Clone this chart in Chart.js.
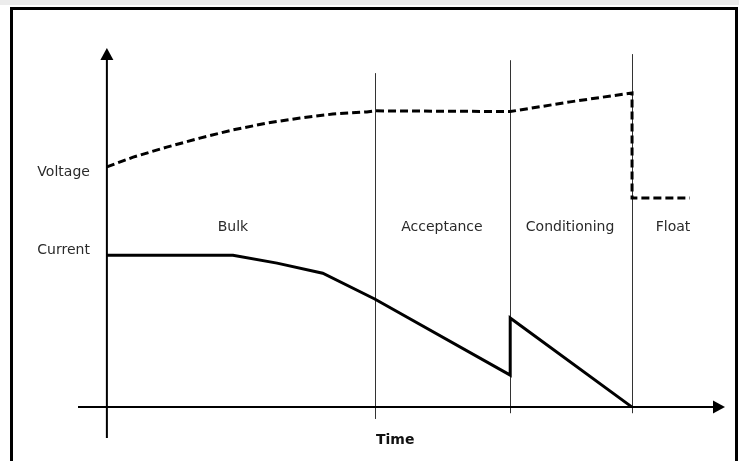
<!DOCTYPE html>
<html>
<head>
<meta charset="utf-8">
<script src="https://cdn.jsdelivr.net/npm/chart.js@4"></script>
<style>
  html, body { margin: 0; padding: 0; background: #fff; }
  canvas { display: block; }
</style>
</head>
<body>
<canvas id="chart" width="739" height="461"></canvas>
<script>
// Charging curve, arbitrary units (time across, level up)
const voltageTime = [0, 5, 11.4, 17.7, 24, 30.5, 36.8, 43, 49.5, 51, 76.8, 88.2, 100, 100, 111];
const voltageLevel = [66.9, 69.6, 72.4, 74.9, 77.2, 79.1, 80.5, 81.6, 82.2, 82.5, 82.3, 85.0, 87.5, 58.2, 58.2];

const currentTime = [0, 24, 32.4, 41.1, 51, 76.8, 76.8, 100];
const currentLevel = [42.3, 42.3, 40.1, 37.3, 30.1, 8.9, 24.8, 0];

// phase boundaries and labels
const phaseEnds = [51, 76.8, 100];
const phaseNames = ["Bulk", "Acceptance", "Conditioning", "Float"];
const phaseLabelTime = [24, 63.8, 88.2, 107.8];
const phaseLabelLevel = 50.1;

const seriesNames = ["Voltage", "Current"];
const axisTitle = "Time";

const toPoints = (xs, ys) => xs.map((x, i) => ({ x: x, y: ys[i] }));

// Draws the frame, axes with arrows, phase lines and all the labels
const diagramPlugin = {
  id: "diagram",
  beforeDatasetsDraw(chart) {
    const { ctx, scales } = chart;
    const xs = scales.x;
    const ys = scales.y;
    const x0 = xs.getPixelForValue(0);
    const y0 = ys.getPixelForValue(0);

    ctx.save();

    // outer frame
    ctx.fillStyle = "#ececec";
    ctx.fillRect(0, 0, chart.width, 5);
    ctx.strokeStyle = "#000";
    ctx.lineWidth = 3;
    ctx.beginPath();
    ctx.moveTo(11.5, chart.height + 5);
    ctx.lineTo(11.5, 8.5);
    ctx.lineTo(736.5, 8.5);
    ctx.lineTo(736.5, chart.height + 5);
    ctx.stroke();

    // phase separators
    const sepTop = [93, 96.6, 98.3];
    const sepBottom = [-3.3, -1.7, -1.7];
    ctx.strokeStyle = "#333";
    ctx.lineWidth = 1;
    phaseEnds.forEach((t, i) => {
      const px = Math.round(xs.getPixelForValue(t)) + 0.5;
      ctx.beginPath();
      ctx.moveTo(px, ys.getPixelForValue(sepTop[i]));
      ctx.lineTo(px, ys.getPixelForValue(sepBottom[i]));
      ctx.stroke();
    });

    // y axis with arrow
    ctx.strokeStyle = "#000";
    ctx.fillStyle = "#000";
    ctx.lineWidth = 2;
    ctx.beginPath();
    ctx.moveTo(x0, ys.bottom);
    ctx.lineTo(x0, ys.top + 8);
    ctx.stroke();
    ctx.beginPath();
    ctx.moveTo(x0, ys.top);
    ctx.lineTo(x0 - 6.5, ys.top + 12);
    ctx.lineTo(x0 + 6.5, ys.top + 12);
    ctx.closePath();
    ctx.fill();

    // x axis with arrow
    ctx.beginPath();
    ctx.moveTo(xs.left, y0);
    ctx.lineTo(xs.right - 8, y0);
    ctx.stroke();
    ctx.beginPath();
    ctx.moveTo(xs.right, y0);
    ctx.lineTo(xs.right - 12, y0 - 6.5);
    ctx.lineTo(xs.right - 12, y0 + 6.5);
    ctx.closePath();
    ctx.fill();

    // phase names
    ctx.font = "14px 'DejaVu Sans'";
    ctx.fillStyle = "#2a2a2a";
    ctx.textAlign = "center";
    ctx.textBaseline = "middle";
    phaseNames.forEach((name, i) => {
      ctx.fillText(name, xs.getPixelForValue(phaseLabelTime[i]), ys.getPixelForValue(phaseLabelLevel));
    });

    // series names next to the y axis
    ctx.textAlign = "right";
    ctx.fillText(seriesNames[0], x0 - 17, ys.getPixelForValue(voltageLevel[0]) + 5);
    ctx.fillText(seriesNames[1], x0 - 17, ys.getPixelForValue(currentLevel[0]) - 5);

    // axis title
    ctx.font = "bold 14px 'DejaVu Sans'";
    ctx.fillStyle = "#111";
    ctx.textAlign = "center";
    ctx.fillText(axisTitle, xs.getPixelForValue(54.9), ys.bottom + 2);

    ctx.restore();
  },
};

const ctx = document.getElementById("chart").getContext("2d");
new Chart(ctx, {
  type: "line",
  data: {
    datasets: [
      {
        label: seriesNames[0],
        data: toPoints(voltageTime, voltageLevel),
        borderColor: "#000",
        borderWidth: 3,
        borderDash: [8, 4],
        pointRadius: 0,
        tension: 0,
        fill: false,
      },
      {
        label: seriesNames[1],
        data: toPoints(currentTime, currentLevel),
        borderColor: "#000",
        borderWidth: 3,
        pointRadius: 0,
        tension: 0,
        fill: false,
      },
    ],
  },
  options: {
    responsive: false,
    animation: false,
    devicePixelRatio: 1,
    layout: { padding: { left: 78, right: 14, top: 48, bottom: 23 } },
    plugins: {
      legend: { display: false },
      tooltip: { enabled: false },
    },
    scales: {
      x: { type: "linear", min: -5.5, max: 117.7, display: false },
      y: { type: "linear", min: -8.6, max: 100, display: false },
    },
  },
  plugins: [diagramPlugin],
});
</script>
</body>
</html>
